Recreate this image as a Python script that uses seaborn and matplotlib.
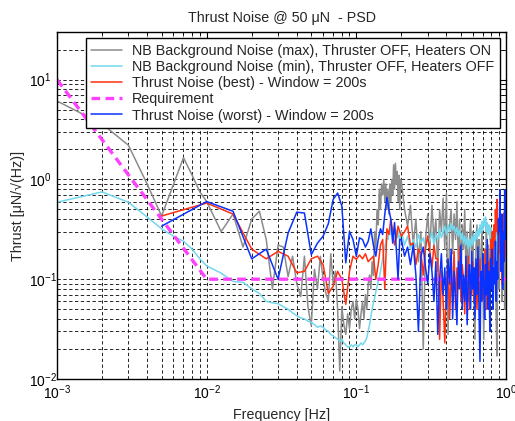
import numpy as np
import pandas as pd
import matplotlib
matplotlib.use("Agg")
import matplotlib.pyplot as plt
import seaborn as sns

# ---------------- data ----------------
# background-noise frequency grid [Hz]
bg_freq = np.concatenate([np.arange(1, 11) * 0.001,
                          np.arange(5, 80) * 0.0025,
                          np.arange(20, 101) * 0.01])
# thrust-noise frequency grid [Hz] (window = 200 s)
thr_freq = np.concatenate([np.arange(1, 41) * 0.005,
                           np.arange(21, 101) * 0.01])

bg_max = [6.1, 3.6, 2.2, 0.9, 0.43, 0.89, 1.65, 1.1, 0.75, 0.60,
          0.30, 0.45, 0.21, 0.40, 0.48, 0.25, 0.08, 0.22, 0.21, 0.106,
          0.17, 0.09, 0.067, 0.17, 0.053, 0.034, 0.126, 0.08, 0.17, 0.10,
          0.073, 0.06, 0.18, 0.09, 0.12, 0.05, 0.012, 0.053, 0.035, 0.028,
          0.045, 0.032, 0.05, 0.06, 0.04, 0.063, 0.05, 0.032, 0.045, 0.06,
          0.04, 0.07, 0.05, 0.09, 0.11, 0.08, 0.15, 0.109, 0.30, 0.20,
          0.50, 0.35, 0.80, 0.50, 0.90, 0.70, 1.00, 0.60, 0.90, 0.50,
          0.80, 0.45, 0.90, 0.60, 1.00, 0.70, 1.40, 0.80, 1.45, 0.90,
          1.20, 0.60, 1.10, 0.50, 1.00,
          0.95, 0.50, 0.34, 0.55, 0.22, 0.40, 0.15, 0.30, 0.020, 0.25,
          0.45, 0.20, 0.55, 0.25, 0.40, 0.12, 0.50, 0.30, 0.65, 0.20,
          0.73, 0.028, 0.35, 0.50, 0.18, 0.45, 0.25, 0.60, 0.15, 0.40,
          0.08, 0.35, 0.20, 0.50, 0.12, 0.30, 0.06, 0.25, 0.40, 0.15,
          0.30, 0.10, 0.025, 0.20, 0.35, 0.12, 0.25, 0.05, 0.18, 0.30,
          0.10, 0.025, 0.20, 0.12, 0.35, 0.08, 0.22, 0.15, 0.04, 0.25,
          0.10, 0.30, 0.06, 0.20, 0.12, 0.35, 0.04, 0.017, 0.15, 0.25,
          0.08, 0.30, 0.12, 0.40, 0.06, 0.22, 0.10, 0.30, 0.05, 0.20,
          0.12]

bg_min = [0.59, 0.75, 0.59, 0.42, 0.32, 0.27, 0.24, 0.20, 0.16, 0.136,
          0.115, 0.095, 0.093, 0.080, 0.072, 0.060, 0.058, 0.057, 0.053, 0.050,
          0.046, 0.043, 0.041, 0.040, 0.038, 0.037, 0.035, 0.033, 0.034, 0.033,
          0.031, 0.030, 0.028, 0.027, 0.026, 0.025, 0.024, 0.025, 0.023, 0.022,
          0.021, 0.021, 0.022, 0.021, 0.022, 0.022, 0.021, 0.022, 0.023, 0.022,
          0.023, 0.024, 0.026, 0.030, 0.035, 0.042, 0.050, 0.058, 0.065, 0.075,
          0.085, 0.095, 0.105, 0.120, 0.140, 0.160, 0.190, 0.210, 0.240, 0.270,
          0.250, 0.300, 0.280, 0.320, 0.290, 0.250, 0.300, 0.330, 0.280, 0.310,
          0.260, 0.300, 0.270, 0.240, 0.280,
          0.30, 0.22, 0.27, 0.20, 0.25, 0.21, 0.28, 0.23, 0.26, 0.20,
          0.27, 0.24, 0.30, 0.22, 0.28, 0.25, 0.32, 0.26, 0.30, 0.34,
          0.28, 0.35, 0.30, 0.36, 0.31, 0.34, 0.29, 0.33, 0.27, 0.31,
          0.25, 0.29, 0.23, 0.27, 0.22, 0.26, 0.20, 0.25, 0.21, 0.27,
          0.22, 0.28, 0.24, 0.30, 0.25, 0.32, 0.27, 0.35, 0.29, 0.38,
          0.31, 0.40, 0.34, 0.42, 0.30, 0.37, 0.28, 0.35, 0.25, 0.33,
          0.22, 0.30, 0.19, 0.28, 0.17, 0.26, 0.15, 0.30, 0.20, 0.38,
          0.25, 0.42, 0.30, 0.45, 0.33, 0.40, 0.28, 0.36, 0.24, 0.38,
          0.30]

thrust_best = [0.43, 0.58, 0.45, 0.20, 0.16, 0.19, 0.17, 0.116, 0.12, 0.16,
               0.17, 0.14, 0.072, 0.085, 0.12, 0.10, 0.056, 0.12, 0.17, 0.158,
               0.175, 0.16, 0.18, 0.15, 0.16, 0.17, 0.10, 0.14, 0.22, 0.25,
               0.08, 0.32, 0.28, 0.40, 0.30, 0.22, 0.26, 0.34, 0.30, 0.27,
               0.30, 0.34, 0.22, 0.23, 0.14, 0.20, 0.18, 0.11, 0.21, 0.27,
               0.19, 0.13, 0.22, 0.16, 0.16, 0.025, 0.12, 0.063, 0.023, 0.09,
               0.15, 0.04, 0.11, 0.07, 0.19, 0.05, 0.13, 0.08, 0.21, 0.06,
               0.14, 0.10, 0.045, 0.12, 0.09, 0.17, 0.05, 0.11, 0.07, 0.15,
               0.06, 0.13, 0.09, 0.05, 0.12, 0.07, 0.16, 0.06, 0.10, 0.063,
               0.14, 0.08, 0.20, 0.05, 0.11, 0.07, 0.15, 0.09, 0.25, 0.12,
               0.30, 0.14, 0.35, 0.22, 0.50, 0.30, 0.63, 0.28, 0.40, 0.18,
               0.33, 0.12, 0.25, 0.09, 0.30, 0.15, 0.46, 0.20, 0.30, 0.16]

thrust_worst = [0.34, 0.60, 0.48, 0.16, 0.20, 0.10, 0.29, 0.47, 0.46, 0.176,
                0.23, 0.27, 0.36, 0.63, 0.73, 0.54, 0.146, 0.30, 0.25, 0.17,
                0.26, 0.25, 0.21, 0.24, 0.32, 0.22, 0.17, 0.25, 0.32, 0.28,
                0.45, 0.66, 0.50, 0.40, 0.23, 0.37, 0.20, 0.10, 0.25, 0.25,
                0.17, 0.21, 0.14, 0.22, 0.11, 0.030, 0.17, 0.21, 0.13, 0.09,
                0.18, 0.12, 0.06, 0.15, 0.028, 0.10, 0.18, 0.07, 0.13, 0.05,
                0.16, 0.09, 0.20, 0.04, 0.12, 0.07, 0.035, 0.15, 0.08, 0.22,
                0.05, 0.11, 0.06, 0.17, 0.035, 0.10, 0.14, 0.05, 0.19, 0.08,
                0.13, 0.04, 0.16, 0.07, 0.21, 0.05, 0.015, 0.12, 0.06, 0.18,
                0.09, 0.04, 0.14, 0.07, 0.25, 0.05, 0.12, 0.03, 0.16, 0.08,
                0.20, 0.05, 0.13, 0.09, 0.24, 0.06, 0.15, 0.10, 0.40, 0.30,
                0.79, 0.20, 0.12, 0.45, 0.08, 0.30, 0.15, 0.79, 0.25, 0.60]

req_freq = [0.001, 0.01, 1.0]
req_value = [10.0, 0.1, 0.1]

labels = ["NB Background Noise (max), Thruster OFF, Heaters ON",
          "NB Background Noise (min), Thruster OFF, Heaters OFF",
          "Thrust Noise (best) - Window = 200s",
          "Requirement",
          "Thrust Noise (worst) - Window = 200s"]

# ---------------- style ----------------
sns.set_style("white")
plt.rcParams['font.family'] = ['Liberation Sans', 'DejaVu Sans']
plt.rcParams['mathtext.fontset'] = 'custom'
plt.rcParams['mathtext.rm'] = 'Liberation Sans'
plt.rcParams['mathtext.it'] = 'Liberation Sans:italic'
plt.rcParams['mathtext.bf'] = 'Liberation Sans:bold'

fig = plt.figure(figsize=(5.15, 4.21), dpi=100)
ax = fig.add_axes([57/515, 1 - 379/421, (506 - 57)/515, (379 - 32)/421])

df_max = pd.DataFrame({"f": bg_freq, "v": bg_max})
df_min = pd.DataFrame({"f": bg_freq, "v": bg_min})
df_best = pd.DataFrame({"f": thr_freq, "v": thrust_best})
df_worst = pd.DataFrame({"f": thr_freq, "v": thrust_worst})
df_req = pd.DataFrame({"f": req_freq, "v": req_value})

kw = dict(x="f", y="v", estimator=None, sort=False, ax=ax)
sns.lineplot(data=df_max, color="#8c8c8c", lw=1.1, label=labels[0], **kw)
sns.lineplot(data=df_min, color="#72d8ee", lw=1.1, label=labels[1], **kw)
sns.lineplot(data=df_best, color="#ff3010", lw=1.1, label=labels[2], **kw)
sns.lineplot(data=df_req, color="#ff40ff", lw=2.4, label=labels[3], **kw)
ax.lines[-1].set_dashes((2.6, 1.6))
sns.lineplot(data=df_worst, color="#0a32ff", lw=1.1, label=labels[4], **kw)

ax.set_xscale("log")
ax.set_yscale("log")
ax.set_xlim(1e-3, 1)
ax.set_ylim(1e-2, 30)

ax.grid(True, which="both", color="black", linestyle=(0, (4, 3)), lw=0.6)
ax.tick_params(which="both", direction="in", top=True, right=True,
               labelsize=10, colors="black")
ax.tick_params(which="major", length=5, width=0.8)
ax.tick_params(which="minor", length=3, width=0.6)
ax.tick_params(axis="y", which="major", pad=20)
plt.setp(ax.get_yticklabels(), ha="left")
for s in ax.spines.values():
    s.set_color("black")
    s.set_linewidth(1.0)

ax.set_xlabel("Frequency [Hz]", fontsize=10.3)
ax.set_ylabel("Thrust [\u03bcN/\u221a(Hz)]", fontsize=10.3, labelpad=3)
ax.set_title("Thrust Noise @ 50 \u03bcN  - PSD", fontsize=10.3, pad=7)

leg = ax.legend(loc="upper right", fontsize=10.4, frameon=True, fancybox=False,
                framealpha=1, edgecolor="black", borderaxespad=0.42,
                handlelength=2.1, handletextpad=0.7, labelspacing=0.15,
                borderpad=0.4)
leg.get_frame().set_linewidth(1.0)

fig.savefig("out.png", dpi=100)
